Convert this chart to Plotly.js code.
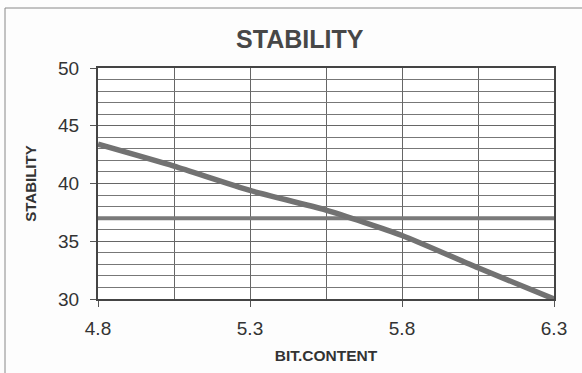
<!DOCTYPE html>
<html>
<head>
<meta charset="utf-8">
<script src="https://cdn.plot.ly/plotly-3.0.1.min.js"></script>
<style>
  html, body { margin: 0; padding: 0; background: #fdfdfd; }
  #chart { width: 582px; height: 373px; }
</style>
</head>
<body>
<div id="chart"></div>
<script>
// Stability against bit content
const bitContent = [4.8, 5.05, 5.3, 5.55, 5.8, 6.05, 6.3];
const stability = [43.4, 41.5, 39.4, 37.7, 35.5, 32.7, 30.0];
const limitX = [4.8, 6.3];
const limitY = [37, 37];
const xTicks = [4.8, 5.3, 5.8, 6.3];
const yTicks = [30, 35, 40, 45, 50];

const fontFamily = 'Liberation Sans, Arial, sans-serif';

const traces = [
  {
    x: limitX, y: limitY, mode: 'lines', type: 'scatter',
    line: { color: '#7a7a7a', width: 4 }, hoverinfo: 'skip'
  },
  {
    x: bitContent, y: stability, mode: 'lines', type: 'scatter',
    line: { color: '#727272', width: 5.5, shape: 'spline', smoothing: 0.6 }
  }
];

const layout = {
  width: 582, height: 373,
  margin: { l: 98, r: 28, t: 68, b: 74 },
  paper_bgcolor: '#fdfdfd',
  plot_bgcolor: '#ffffff',
  showlegend: false,
  title: {
    text: '<b>STABILITY</b>',
    font: { family: fontFamily, size: 25, color: '#474747' },
    x: 0.515, xanchor: 'center', y: 0.895, yanchor: 'middle'
  },
  xaxis: {
    range: [4.8, 6.3],
    tickvals: xTicks, ticktext: xTicks.map(v => v.toFixed(1)),
    ticks: 'outside', ticklen: 6, tickcolor: '#555', tickwidth: 1,
    ticklabelstandoff: 5,
    tickfont: { family: fontFamily, size: 19, color: '#333' },
    showgrid: true, gridcolor: '#666', gridwidth: 1,
    minor: { dtick: 0.25, tick0: 4.8, showgrid: true, gridcolor: '#666', gridwidth: 1 },
    showline: true, linecolor: '#444', linewidth: 2, mirror: true,
    zeroline: false,
    title: { text: '<b>BIT.CONTENT</b>', font: { family: fontFamily, size: 15.5, color: '#333' }, standoff: 12 }
  },
  yaxis: {
    range: [30, 50],
    tickvals: yTicks,
    ticks: 'outside', ticklen: 6, tickcolor: '#555', tickwidth: 1,
    ticklabelstandoff: 7,
    tickfont: { family: fontFamily, size: 19, color: '#333' },
    showgrid: true, gridcolor: '#666', gridwidth: 1,
    minor: { dtick: 1, tick0: 30, showgrid: true, gridcolor: '#777', gridwidth: 1 },
    showline: true, linecolor: '#444', linewidth: 2, mirror: true,
    zeroline: false,
    title: { text: '<b>STABILITY</b>', font: { family: fontFamily, size: 15, color: '#333' }, standoff: 18 }
  },
  shapes: [
    { type: 'line', xref: 'paper', yref: 'paper',
      x0: -93 / 456, x1: 1.2, y0: (373 - 74 - 8) / 231, y1: (373 - 74 - 8) / 231,
      line: { color: '#888', width: 1 } },
    { type: 'line', xref: 'paper', yref: 'paper',
      x0: -93 / 456, x1: -93 / 456, y0: -0.4, y1: (373 - 74 - 8) / 231,
      line: { color: '#888', width: 1 } }
  ]
};

Plotly.newPlot('chart', traces, layout, { displayModeBar: false, staticPlot: true });
</script>
</body>
</html>
